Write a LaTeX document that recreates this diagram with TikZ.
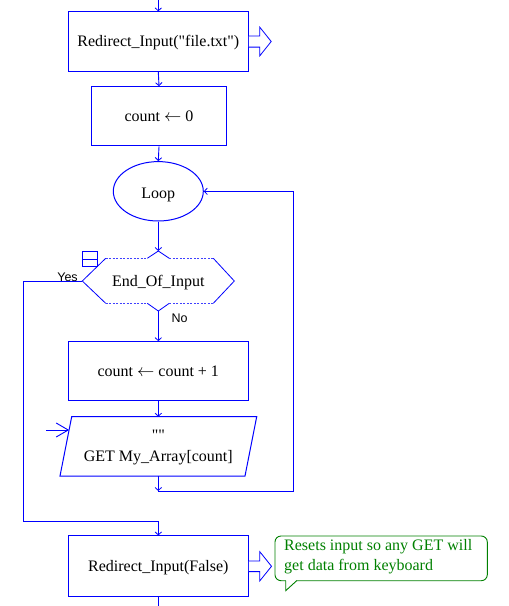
\documentclass[tikz,border=0pt]{standalone}
\usepackage{fontspec}
\setmainfont{Liberation Serif}[Ligatures=TeXOff]
\newfontfamily\lblfont{Liberation Sans}
\usetikzlibrary{arrows.meta,shapes.geometric}
\definecolor{fcblue}{RGB}{0,0,255}
\definecolor{fcgreen}{RGB}{0,128,0}
\newcommand{\asgn}{\ensuremath{\leftarrow}}
\begin{document}
\begin{tikzpicture}[x=1pt,y=-1pt,
  txt/.style={font=\fontsize{16}{21}\selectfont, text=black, text height=14pt, text depth=3.4pt},
  box/.style={txt, draw=fcblue, line width=1pt, rectangle, minimum width=180pt, minimum height=59.3pt, inner sep=0pt},
  conn/.style={draw=fcblue, line width=0.9pt, -{Straight Barb[length=3pt,width=6.5pt,line width=0.8pt]}},
  plain/.style={draw=fcblue, line width=0.9pt},
  side/.style={draw=fcblue, line width=0.8pt},
  dashside/.style={draw=fcblue!75, line width=0.7pt, dash pattern=on 2pt off 1.5pt},
  blockarrow/.style={draw=fcblue, line width=0.8pt, fill=white},
  lbl/.style={font=\lblfont\fontsize{12.5}{14}\selectfont, text=black, inner sep=0pt},
  note/.style={font=\fontsize{16}{20}\selectfont, text=fcgreen, inner sep=0pt, align=left}
]
\useasboundingbox (0,0) rectangle (509,606);

% nodes
\coordinate (top) at (158.3,0);
\node[box] (b1) at (158.3,41.5) {Redirect\_Input("file.txt")};
\node[box, minimum width=134.6pt] (b2) at (159,116.3) {count \asgn{} 0};
\node[draw=fcblue, line width=1pt, ellipse, minimum width=90pt, minimum height=59.4pt, inner sep=0pt] (loop) at (158.3,191.3) {};
\node[txt, inner sep=0pt] (looptxt) at (158.3,193) {Loop};

% decision shape
\coordinate (dL) at (82.3,281);
\coordinate (dTL) at (105.7,258.3);
\coordinate (dTCL) at (147.3,258.3);
\coordinate (dTP) at (158.3,251);
\coordinate (dTCR) at (169.3,258.3);
\coordinate (dTR) at (213.3,258.3);
\coordinate (dR) at (234.3,281);
\coordinate (dBR) at (213.3,303.3);
\coordinate (dBCR) at (169.3,303.3);
\coordinate (dBP) at (158.3,311);
\coordinate (dBCL) at (147.3,303.3);
\coordinate (dBL) at (105.7,303.3);
\node[txt, inner sep=0pt] (dec) at (158.3,281) {End\_Of\_Input};
\draw[side] (dTL) -- (dL) -- (dBL);
\draw[side] (dTR) -- (dR) -- (dBR);
\draw[side] (dTCL) -- (dTP) -- (dTCR);
\draw[side] (dBCL) -- (dBP) -- (dBCR);
\draw[dashside] (dTL) -- (dTCL);
\draw[dashside] (dTCR) -- (dTR);
\draw[dashside] (dBL) -- (dBCL);
\draw[dashside] (dBCR) -- (dBR);
\node[draw=fcblue, line width=0.9pt, minimum width=15pt, minimum height=15pt, inner sep=0pt] (icon) at (89.8,259.2) {};
\draw[plain] (icon.west) -- (icon.east);
\node[lbl] (yes) at (67.5,277.5) {Yes};
\node[lbl] (no) at (179.5,318) {No};

\node[box] (b3) at (158.3,371.3) {count \asgn{} count + 1};

% parallelogram
\coordinate (pTL) at (71.7,416.7);
\coordinate (pTR) at (256.7,416.7);
\coordinate (pBR) at (245,476);
\coordinate (pBL) at (60,476);
\coordinate (pT) at (158.3,416.7);
\coordinate (pB) at (158.3,476);
\coordinate (pL) at (69.1,430);
\coordinate (inL) at (46,430);
\draw[draw=fcblue, line width=1pt] (pTL) -- (pTR) -- (pBR) -- (pBL) -- cycle;
\node[font=\fontsize{16}{21}\selectfont, align=center, inner sep=0pt] (para) at (158.3,447) {""\\GET My\_Array[count]};

\coordinate (join) at (158.3,491);
\coordinate (backR) at (293.3,491);
\coordinate (backT) at (293.3,191.3);
\coordinate (yesL) at (23.3,281);
\coordinate (yesB) at (23.3,521.7);
\coordinate (yesJ) at (158.3,521.7);

\node[box, minimum height=60.7pt] (b4) at (158.3,566.3) {Redirect\_Input(False)};
\coordinate (bottom) at (158.3,606);

% callout
\node[note, anchor=west] (cnote) at (284,556.5) {Resets input so any GET will\\get data from keyboard};
\draw[draw=fcgreen, line width=0.9pt, rounded corners=6pt] (275,536) rectangle (487.3,580.7);
\fill[white] (286.2,580) -- (296.2,580) -- (296.2,582) -- (286.2,582) -- cycle;
\draw[draw=fcgreen, line width=0.9pt] (285.7,580.7) -- (285.7,590.7) -- (296.7,580.7);

% block arrows
\begin{scope}[shift={(b1.east)}]
\draw[blockarrow] (0,-5.6) -- (11,-5.6) -- (11,-14.3) -- (22.4,0) -- (11,14.3) -- (11,5.6) -- (0,5.6);
\end{scope}
\begin{scope}[shift={(b4.east)}]
\draw[blockarrow] (0,-5.3) -- (11,-5.3) -- (11,-14.6) -- (22.7,0) -- (11,14.6) -- (11,5.3) -- (0,5.3);
\end{scope}

% connectors
\draw[conn] (top) -- (b1.north);
\draw[conn] (b1.south) -- (b2.north);
\draw[conn] (b2.south) -- (loop.north);
\draw[conn] (loop.south) -- (dTP);
\draw[conn] (dBP) -- (b3.north);
\draw[conn] (b3.south) -- (pT);
\draw[conn] (pB) -- (join);
\draw[conn] (join) -- (backR) -- (backT) -- (loop.east);
\draw[conn] (dL) -- (yesL) -- (yesB) -- (yesJ) -- (b4.north);
\draw[plain] (b4.south) -- (bottom);
\draw[draw=fcblue, line width=0.9pt, -{Straight Barb[length=12pt,width=14pt,line width=0.9pt]}] (inL) -- (pL);
\end{tikzpicture}
\end{document}
